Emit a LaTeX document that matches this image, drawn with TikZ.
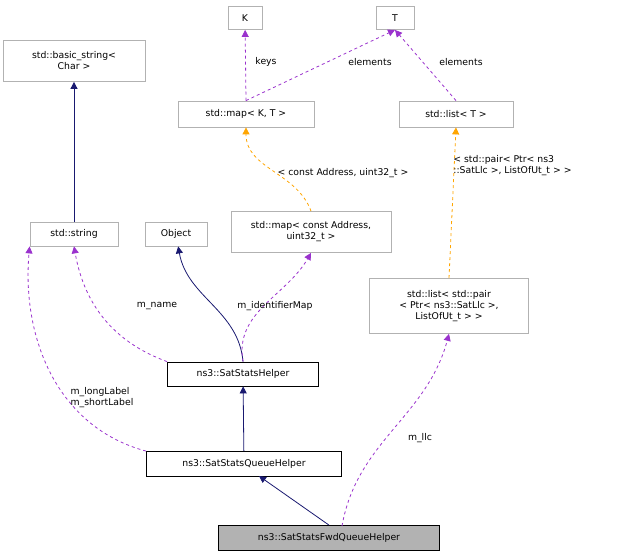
\documentclass[tikz,border=0pt]{standalone}
\usepackage{fontspec}
\setmainfont{DejaVu Sans}
\usetikzlibrary{arrows.meta}
\definecolor{inherit}{HTML}{191970}
\definecolor{usage}{HTML}{9A32CD}
\definecolor{templ}{HTML}{FFA500}

\begin{document}
\begin{tikzpicture}[x=1pt,y=-1pt,font=\fontsize{9.3}{11}\selectfont,line width=0.8pt]
            \tikzstyle{box}=[draw=gray!60,rectangle,inner sep=0pt,align=center]
            \tikzstyle{cls}=[draw=black,rectangle,inner sep=0pt,align=center]
            \tikzstyle{inh}=[inherit,-{Triangle[length=7pt,width=7pt]}]
            \tikzstyle{use}=[usage,dashed,-{Triangle[length=7pt,width=7pt]}]
            \tikzstyle{tpl}=[templ,dashed,-{Triangle[length=7pt,width=7pt]}]
            \tikzstyle{lbl}=[align=left,inner sep=1pt]

            \useasboundingbox (0,0) rectangle (624,559);

            \node [box,minimum width=34pt,minimum height=23pt] (k) at (245,18) {K};
            \node [box,minimum width=38pt,minimum height=23pt] (t) at (395,18) {T};
            \node [box,minimum width=142pt,minimum height=41pt] (bstr) at (74,61) {std::basic\_string<\\Char >};
            \node [box,minimum width=136pt,minimum height=26pt] (map) at (246,114) {std::map< K, T >};
            \node [box,minimum width=114pt,minimum height=26pt] (list) at (456,114) {std::list< T >};
            \node [box,minimum width=88pt,minimum height=24pt] (str) at (74,234) {std::string};
            \node [box,minimum width=62pt,minimum height=24pt] (obj) at (176,234) {Object};
            \node [box,minimum width=160pt,minimum height=41pt] (amap) at (311,232) {std::map< const Address,\\uint32\_t >};
            \node [box,minimum width=159pt,minimum height=55pt] (plist) at (449,306) {std::list< std::pair\\< Ptr< ns3::SatLlc >,\\ListOfUt\_t > >};
            \node [cls,minimum width=151pt,minimum height=24pt] (helper) at (243,374) {ns3::SatStatsHelper};
            \node [cls,minimum width=195pt,minimum height=25pt] (queue) at (244,464) {ns3::SatStatsQueueHelper};
            \node [cls,fill=gray!60,minimum width=221pt,minimum height=25pt] (fwd) at (329,538) {ns3::SatStatsFwdQueueHelper};
            \coordinate (fwdtop) at (342,526);
            \coordinate (qbot) at (259,476);

            % inheritance
            \draw [inh] (str) -- (bstr);
            \draw [inh] (helper.north) to[out=95,in=-80] (obj);
            \draw [inh] (queue) -- (helper);
            \draw [inh] (fwd.north) -- (qbot);

            % usage
            \draw [use] (map.north) -- (k);
            \draw [use] (map.north) -- (t.south);
            \draw [use] (list.north) -- (t.south);
            \draw [use] (helper.north west) to[out=160,in=-80] (str.south);
            \draw [use] (helper.north) to[out=100,in=-120] (amap.south);
            \draw [use] (queue.north west) to[out=165,in=-95] (str.south west);
            \draw [use] (fwdtop) to[out=80,in=-105] (plist.south);

            % template
            \draw [tpl] (amap.north) to[out=110,in=-90] (map.south);
            \draw [tpl] (plist.north) -- (list.south);

            % labels
            \node [lbl] (lk) at (266,62) {keys};
            \node [lbl] (lt1) at (370,62) {elements};
            \node [lbl] (lt2) at (461,62) {elements};
            \node [lbl] (la) at (343,173) {< const Address, uint32\_t >};
            \node [lbl,anchor=west] (lp) at (452,166) {< std::pair< Ptr< ns3\\::SatLlc >, ListOfUt\_t > >};
            \node [lbl] (ln) at (157,306) {m\_name};
            \node [lbl] (li) at (275,306) {m\_identifierMap};
            \node [lbl] (ll) at (102,398) {m\_longLabel\\m\_shortLabel};
            \node [lbl] (lc) at (420,438) {m\_llc};
        \end{tikzpicture}
\end{document}
